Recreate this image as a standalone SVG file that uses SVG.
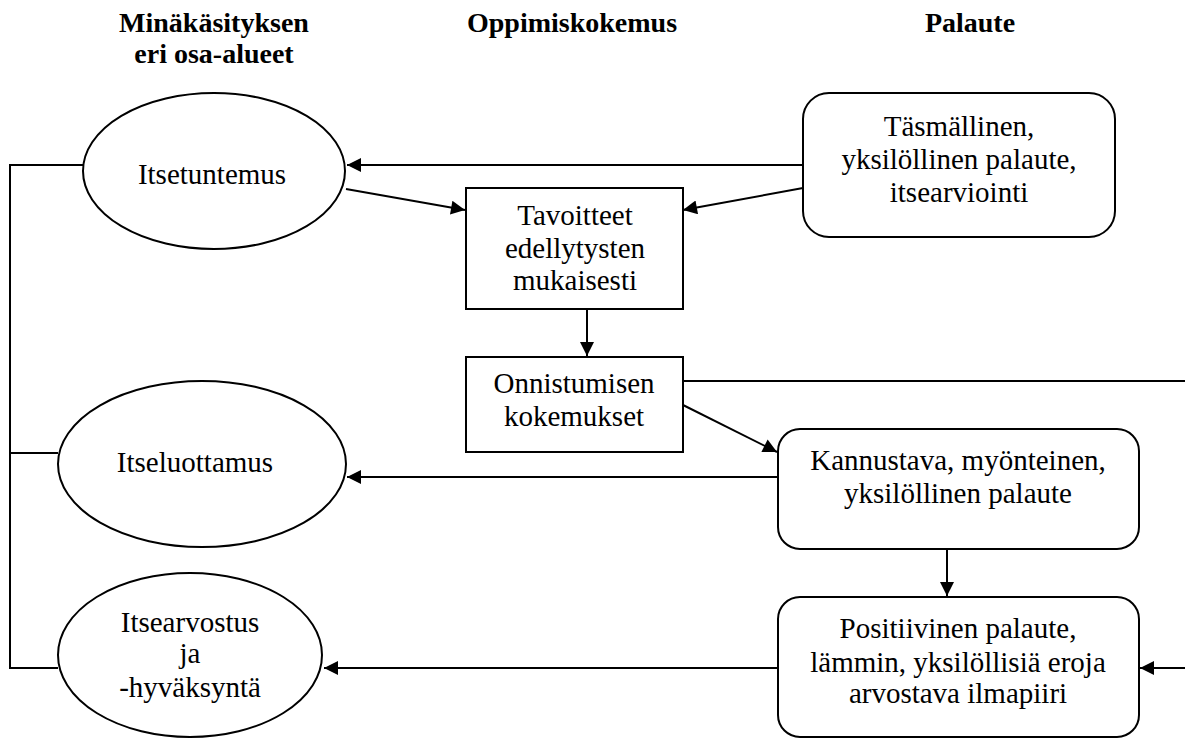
<svg xmlns="http://www.w3.org/2000/svg" width="1185" height="738" viewBox="0 0 1185 738">
<style>
text{font-family:"Liberation Serif","Times New Roman",serif;font-size:29px;fill:#000;text-anchor:middle}
.h{font-weight:bold;font-size:28px}
.s{fill:#fff;stroke:#000;stroke-width:2}
.c{fill:none;stroke:#000;stroke-width:2}
</style>
<defs>
<marker id="a" viewBox="0 0 10 10" refX="10" refY="5" markerWidth="16" markerHeight="14" markerUnits="userSpaceOnUse" orient="auto">
<path d="M0,0 L10,5 L0,10 Z" fill="#000"/>
</marker>
</defs>
<rect width="1185" height="738" fill="#fff"/>
<g id="headers">
<text class="h" x="214" y="32">Minäkäsityksen</text>
<text class="h" x="214" y="63">eri osa-alueet</text>
<text class="h" x="572" y="32">Oppimiskokemus</text>
<text class="h" x="970" y="32">Palaute</text>
</g>
<g id="connectors">
<polyline class="c" points="83,165 10,165 10,668 58,668"/>
<line class="c" x1="10" y1="453" x2="58" y2="453"/>
<line class="c" x1="803" y1="165" x2="347" y2="165" marker-end="url(#a)"/>
<line class="c" x1="803" y1="188" x2="683" y2="210" marker-end="url(#a)"/>
<line class="c" x1="346" y1="189" x2="465" y2="210" marker-end="url(#a)"/>
<line class="c" x1="587" y1="309" x2="587" y2="356" marker-end="url(#a)"/>
<line class="c" x1="683" y1="381" x2="1185" y2="381"/>
<line class="c" x1="683" y1="405" x2="777" y2="452" marker-end="url(#a)"/>
<line class="c" x1="778" y1="477" x2="347" y2="477" marker-end="url(#a)"/>
<line class="c" x1="947" y1="549" x2="947" y2="596" marker-end="url(#a)"/>
<line class="c" x1="778" y1="668" x2="324" y2="668" marker-end="url(#a)"/>
<line class="c" x1="1185" y1="668" x2="1140" y2="668" marker-end="url(#a)"/>
</g>
<g id="itsetuntemus">
<ellipse class="s" cx="214" cy="171" rx="131" ry="78"/>
<text x="212" y="184">Itsetuntemus</text>
</g>
<g id="itseluottamus">
<ellipse class="s" cx="202" cy="464" rx="144" ry="83"/>
<text x="195" y="472">Itseluottamus</text>
</g>
<g id="itsearvostus">
<ellipse class="s" cx="190" cy="655" rx="132" ry="82"/>
<text x="190" y="632">Itsearvostus</text>
<text x="190" y="663">ja</text>
<text x="190" y="697">-hyväksyntä</text>
</g>
<g id="tavoitteet">
<rect class="s" x="466" y="188" width="217" height="121"/>
<text x="575" y="225">Tavoitteet</text>
<text x="575" y="258">edellytysten</text>
<text x="575" y="290">mukaisesti</text>
</g>
<g id="onnistumisen">
<rect class="s" x="466" y="357" width="217" height="95"/>
<text x="574" y="393">Onnistumisen</text>
<text x="574" y="426">kokemukset</text>
</g>
<g id="tasmallinen">
<rect class="s" x="803" y="93" width="312" height="144" rx="26" ry="26"/>
<text x="959" y="136">Täsmällinen,</text>
<text x="959" y="169">yksilöllinen palaute,</text>
<text x="959" y="202">itsearviointi</text>
</g>
<g id="kannustava">
<rect class="s" x="778" y="429" width="361" height="120" rx="22" ry="22"/>
<text x="958" y="470">Kannustava, myönteinen,</text>
<text x="958" y="503">yksilöllinen palaute</text>
</g>
<g id="positiivinen">
<rect class="s" x="778" y="597" width="361" height="140" rx="22" ry="22"/>
<text x="958" y="638">Positiivinen palaute,</text>
<text x="958" y="672">lämmin, yksilöllisiä eroja</text>
<text x="958" y="703">arvostava ilmapiiri</text>
</g>
</svg>
